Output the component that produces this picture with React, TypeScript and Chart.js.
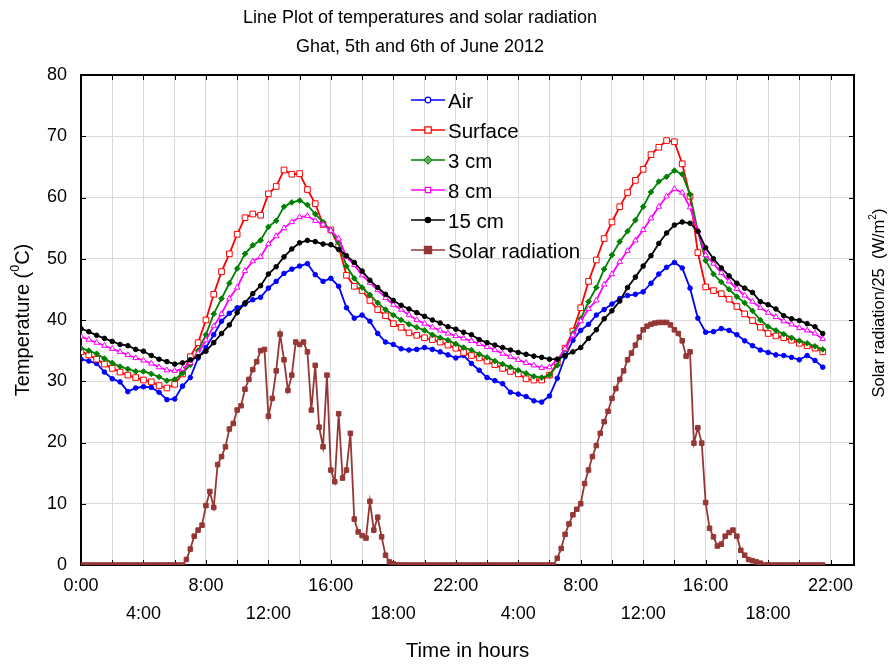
import React, { useEffect, useRef } from "react";
import { Chart, registerables } from "chart.js";

Chart.register(...registerables);

const TITLE_LINES = ["Line Plot of temperatures and solar radiation", "Ghat, 5th and 6th of June 2012"];
const X_TITLE = "Time in hours";
const Y_TITLE_PARTS = [{ t: "Temperature (" }, { t: "0", sup: true }, { t: "C)" }];
const Y2_TITLE_PARTS = [{ t: "Solar radiation/25  (W/m" }, { t: "2", sup: true }, { t: ")" }];
const X_TICK_LABELS = ["0:00", "4:00", "8:00", "12:00", "16:00", "18:00", "22:00", "4:00", "8:00", "12:00", "16:00", "18:00", "22:00"];
const X_TICK_EVERY_H = 4;
const TEMP_STEP_H = 0.5;
const SOLAR_STEP_H = 0.25;

const AIR = [
  33.6, 33.3, 32.9, 31.5, 30.4, 29.9, 28.3, 28.9, 29.1, 29.0,
  28.2, 27.0, 27.1, 29.2, 30.6, 33.8, 35.5, 37.6, 39.8, 41.1,
  42.0, 42.6, 43.3, 43.7, 45.2, 46.3, 47.6, 48.3, 48.8, 49.2,
  47.4, 46.3, 46.8, 45.5, 42.0, 40.3, 40.8, 39.8, 37.8, 36.4,
  36.0, 35.3, 35.1, 35.2, 35.5, 35.2, 34.8, 34.3, 33.8, 34.2,
  32.9, 31.8, 30.6, 30.1, 29.6, 28.2, 27.9, 27.5, 26.8, 26.6,
  27.6, 30.5, 34.0, 36.7, 38.3, 39.3, 40.8, 41.7, 42.6, 43.5,
  44.0, 44.2, 44.6, 46.0, 47.5, 48.6, 49.4, 48.5, 45.2, 40.3,
  38.0, 38.1, 38.6, 38.3, 37.6, 36.6, 35.8, 35.1, 34.7, 34.3,
  34.2, 33.9, 33.5, 34.2, 33.4, 32.3,
];

const SURFACE = [
  34.8, 34.3, 33.6, 32.8, 32.1, 31.5, 31.0, 30.6, 30.2, 29.9,
  29.3, 28.9, 29.5, 31.2, 34.0, 36.3, 40.0, 44.2, 47.9, 50.8,
  54.0, 56.7, 57.3, 57.1, 60.6, 61.8, 64.5, 63.8, 63.9, 61.3,
  59.0, 55.6, 54.7, 52.0, 47.3, 45.5, 44.8, 43.2, 41.7, 40.7,
  39.4, 38.8, 37.9, 37.5, 37.1, 36.8, 36.4, 35.9, 35.4, 34.7,
  34.2, 33.8, 33.3, 32.7, 32.1, 31.6, 31.2, 30.4, 30.2, 30.2,
  31.0, 33.0, 35.4, 38.2, 42.0, 46.3, 49.8, 53.3, 56.0, 58.5,
  60.8, 62.8, 64.6, 67.0, 68.2, 69.3, 69.1, 65.5, 60.2, 51.0,
  45.4, 44.8, 44.3, 43.4, 42.2, 41.0, 39.9, 38.8, 37.8, 37.4,
  37.1, 36.7, 36.2, 35.8, 35.4, 34.8,
];

const CM3 = [
  35.4, 35.0, 34.5, 33.7, 33.0, 32.4, 32.0, 31.6, 31.6, 31.2,
  30.7, 30.1, 30.3, 31.3, 32.7, 35.0, 37.6, 41.0, 43.5, 46.0,
  48.4, 50.8, 52.2, 53.0, 55.2, 56.2, 58.5, 59.2, 59.5, 58.8,
  57.3, 56.0, 54.6, 52.6, 48.8, 46.8, 45.3, 44.1, 42.8, 41.7,
  40.8, 40.0, 39.3, 38.8, 38.3, 37.6, 37.1, 36.7, 36.1, 35.5,
  35.1, 34.4, 33.9, 33.3, 32.8, 32.3, 31.8, 31.3, 30.8, 30.6,
  31.0, 32.6, 35.2, 37.8, 40.2, 43.0, 45.3, 48.3, 50.6, 52.8,
  54.5, 56.3, 58.5, 60.9, 62.6, 63.4, 64.4, 63.8, 60.5, 54.5,
  49.7, 47.5, 46.2, 45.0, 43.8, 42.8, 41.5, 40.0, 38.9, 38.3,
  37.7, 37.1, 36.6, 36.2, 35.7, 35.2,
];

const CM8 = [
  37.3, 36.8, 36.3, 35.8, 35.3, 34.8, 34.3, 33.8, 33.4, 32.9,
  32.3, 31.8, 31.7, 32.0, 33.0, 34.6, 36.7, 39.0, 41.0, 43.5,
  45.3, 48.0, 49.6, 50.3, 52.4, 53.7, 55.0, 56.0, 56.8, 57.0,
  56.2, 55.6, 54.6, 53.3, 50.3, 49.0, 47.3, 46.1, 44.9, 43.6,
  42.5, 41.7, 40.8, 40.0, 39.4, 38.8, 38.3, 37.8, 37.4, 37.0,
  36.6, 36.1, 35.6, 35.1, 34.5, 34.0, 33.5, 33.0, 32.6, 32.2,
  32.3, 33.5, 35.3, 37.5, 39.8, 41.8, 43.2, 45.8, 47.5, 49.5,
  51.3, 53.0, 54.7, 56.6, 58.5, 60.2, 61.4, 60.8, 58.4, 54.5,
  50.6, 49.2, 47.7, 46.3, 45.1, 44.0, 43.0, 42.0, 41.2, 40.5,
  39.8, 39.3, 38.7, 38.3, 37.8, 36.9,
];

const CM15 = [
  38.6, 38.1, 37.5, 37.0, 36.5, 36.0, 35.8, 35.2, 34.9, 34.2,
  33.6, 33.2, 32.8, 33.0, 33.5, 34.0, 34.9, 36.3, 37.8, 39.2,
  41.2, 42.8, 44.3, 45.6, 47.5, 48.7, 50.3, 51.6, 52.6, 53.0,
  52.8, 52.4, 52.3, 51.5, 50.5, 49.4, 48.0, 46.5, 45.3, 44.2,
  43.2, 42.4, 41.8, 41.2, 40.6, 40.0, 39.5, 38.9, 38.5, 38.0,
  37.6, 36.8, 36.3, 35.9, 35.5, 35.1, 34.7, 34.4, 34.1, 33.9,
  33.6, 33.6, 34.2, 34.8, 35.5, 37.0, 38.4, 40.2, 41.5, 43.1,
  45.3, 47.0, 48.8, 50.5, 52.5, 54.2, 55.5, 56.0, 55.8, 54.5,
  51.8, 50.0, 48.5, 47.2, 46.0, 45.2, 44.5, 43.0, 42.5, 41.8,
  40.7, 40.2, 39.9, 39.4, 38.9, 37.8,
];

const SOLAR = [
  0, 0, 0, 0, 0, 0, 0, 0, 0, 0,
  0, 0, 0, 0, 0, 0, 0, 0, 0, 0,
  0, 0, 0, 0, 0, 0,
  0, 0.9, 2.6, 4.7, 5.7, 6.5, 9.7, 12.0, 9.4, 16.4, 17.7, 19.3, 22.2, 23.1, 25.3, 26.0, 28.7, 30.3, 31.9, 33.2, 35.0, 35.2,
  24.3, 27.2, 31.7, 37.7, 33.5, 28.5, 31.0, 36.4, 36.0, 36.4, 34.8, 25.3, 32.6, 22.5, 19.3, 31.0, 15.5, 13.6, 24.7, 14.2,
  15.5, 21.5, 7.5, 5.4, 4.8, 4.4, 10.4, 5.7, 7.8, 4.6, 1.6, 0.5, 0.2,
  0, 0, 0, 0, 0, 0, 0, 0, 0, 0,
  0, 0, 0, 0, 0, 0, 0, 0, 0, 0,
  0, 0, 0, 0, 0, 0, 0, 0, 0, 0,
  0, 0, 0, 0, 0, 0, 0, 0, 0, 0,
  0,
  1.1, 2.7, 5.0, 6.7, 8.2, 9.1, 10.0, 13.3, 15.5, 17.7, 19.5, 21.5, 23.4, 25.1, 27.2, 28.8, 30.3, 31.7, 33.5, 34.6,
  35.9, 37.2, 38.4, 39.0, 39.3, 39.5, 39.6, 39.6, 39.6, 39.2, 38.4, 37.8, 36.6, 34.1, 34.8, 19.9, 22.4, 19.9, 10.2, 6.0,
  4.6, 3.1, 3.4, 4.7, 5.3, 5.7, 4.7, 2.4, 1.6, 0.9, 0.7, 0.5, 0.3, 0,
  0, 0, 0, 0, 0, 0, 0, 0, 0, 0,
  0, 0, 0, 0, 0,
];

const FONT = "'Liberation Sans', Arial, sans-serif";
const BROWN = "#953735";

type Part = { t: string; sup?: boolean };

function drawRich(ctx: CanvasRenderingContext2D, parts: Part[], size: number) {
  const supSize = size * 0.62;
  const widths = parts.map((p) => {
    ctx.font = `${p.sup ? supSize : size}px ${FONT}`;
    return ctx.measureText(p.t).width;
  });
  const total = widths.reduce((a, b) => a + b, 0);
  let x = -total / 2;
  ctx.textAlign = "left";
  ctx.textBaseline = "middle";
  parts.forEach((p, i) => {
    ctx.font = `${p.sup ? supSize : size}px ${FONT}`;
    ctx.fillText(p.t, x, p.sup ? -size * 0.38 : 0);
    x += widths[i];
  });
}

function drawMarker(ctx: CanvasRenderingContext2D, kind: string, x: number, y: number, r: number, stroke: string, fill: string) {
  ctx.beginPath();
  ctx.lineWidth = 1.2;
  ctx.strokeStyle = stroke;
  ctx.fillStyle = fill;
  if (kind === "circle") ctx.arc(x, y, r, 0, Math.PI * 2);
  else if (kind === "square") ctx.rect(x - r, y - r, 2 * r, 2 * r);
  else if (kind === "diamond") {
    ctx.moveTo(x, y - r);
    ctx.lineTo(x + r, y);
    ctx.lineTo(x, y + r);
    ctx.lineTo(x - r, y);
    ctx.closePath();
  }
  ctx.fill();
  ctx.stroke();
  if (kind === "diamond") {
    ctx.beginPath();
    ctx.moveTo(x - r * 0.6, y);
    ctx.lineTo(x + r * 0.6, y);
    ctx.moveTo(x, y - r * 0.6);
    ctx.lineTo(x, y + r * 0.6);
    ctx.stroke();
  }
}

const LEGEND_MARKERS = [
  { kind: "circle", r: 2.8, fill: "#ffffff" },
  { kind: "square", r: 3.2, fill: "#ffffff" },
  { kind: "diamond", r: 3.8, fill: "#ffffff" },
  { kind: "square", r: 2.6, fill: "#ffffff" },
  { kind: "circle", r: 2.6, fill: null },
  { kind: "square", r: 3.6, fill: null },
];

const decorPlugin = {
  id: "decor",
  beforeDatasetsDraw(chart: any) {
    const { ctx, chartArea: a, scales } = chart;
    const xs = scales.x;
    const ys = scales.y;
    ctx.save();
    ctx.strokeStyle = "#000";
    ctx.lineWidth = 1;
    ctx.beginPath();
    ys.ticks.forEach((t: any) => {
      const py = Math.round(ys.getPixelForValue(t.value)) + 0.5;
      ctx.moveTo(a.left, py);
      ctx.lineTo(a.left + 5, py);
      ctx.moveTo(a.right - 5, py);
      ctx.lineTo(a.right, py);
    });
    xs.ticks.forEach((t: any) => {
      const px = Math.round(xs.getPixelForValue(t.value)) + 0.5;
      ctx.moveTo(px, a.bottom);
      ctx.lineTo(px, a.bottom - 5);
      ctx.moveTo(px, a.top);
      ctx.lineTo(px, a.top + 5);
    });
    ctx.stroke();
    ctx.lineWidth = 2;
    ctx.strokeRect(a.left, a.top, a.right - a.left, a.bottom - a.top);
    ctx.restore();
  },
  afterDraw(chart: any) {
    const { ctx, chartArea: a } = chart;
    ctx.save();
    ctx.fillStyle = "#000";
    ctx.textAlign = "center";
    ctx.textBaseline = "middle";
    ctx.font = `18px ${FONT}`;
    ctx.fillText(TITLE_LINES[0], 420, 18);
    ctx.fillText(TITLE_LINES[1], 420, 47);
    ctx.font = `20.5px ${FONT}`;
    ctx.fillText(X_TITLE, (a.left + a.right) / 2, 651);
    ctx.save();
    ctx.translate(23, (a.top + a.bottom) / 2);
    ctx.rotate(-Math.PI / 2);
    drawRich(ctx, Y_TITLE_PARTS, 20);
    ctx.restore();
    ctx.save();
    ctx.translate(879, 303);
    ctx.rotate(-Math.PI / 2);
    drawRich(ctx, Y2_TITLE_PARTS, 16.5);
    ctx.restore();

    // legend
    chart.data.datasets.forEach((ds: any, i: number) => {
      const ly = 100 + 30 * i;
      ctx.beginPath();
      ctx.strokeStyle = ds.borderColor;
      ctx.lineWidth = 1.5;
      ctx.moveTo(411, ly);
      ctx.lineTo(445, ly);
      ctx.stroke();
      const m = LEGEND_MARKERS[i];
      drawMarker(ctx, m.kind, 428, ly, m.r, ds.borderColor, m.fill || ds.borderColor);
      ctx.fillStyle = "#000";
      ctx.font = `20.5px ${FONT}`;
      ctx.textAlign = "left";
      ctx.textBaseline = "middle";
      ctx.fillText(ds.label, 448, ly + 2);
    });
    ctx.restore();
  },
};

export default function App() {
  const ref = useRef<HTMLCanvasElement>(null);

  useEffect(() => {
    const temp = (arr: number[]) => arr.map((v, i) => ({ x: i * TEMP_STEP_H, y: v }));
    const solar = SOLAR.map((v, i) => ({ x: i * SOLAR_STEP_H, y: v }));

    const base = { borderWidth: 1.8, pointBorderWidth: 1, tension: 0 };
    const chart = new Chart(ref.current as HTMLCanvasElement, {
      type: "line",
      data: {
        datasets: [
          { ...base, label: "Air", data: temp(AIR), borderColor: "#0000ff", backgroundColor: "#0000ff", pointStyle: "circle", pointRadius: 2.3, pointBackgroundColor: "#0000ff", pointBorderColor: "#0000ff", order: 5 },
          { ...base, label: "Surface", data: temp(SURFACE), borderColor: "#ff0000", backgroundColor: "#ff0000", pointStyle: "rect", pointRadius: 4, pointBackgroundColor: "#ffffff", pointBorderColor: "#ff0000", order: 4 },
          { ...base, label: "3 cm", data: temp(CM3), borderColor: "#008000", backgroundColor: "#008000", pointStyle: "rectRot", pointRadius: 2.8, pointBackgroundColor: "#008000", pointBorderColor: "#008000", order: 3 },
          { ...base, label: "8 cm", data: temp(CM8), borderColor: "#ff00ff", backgroundColor: "#ff00ff", pointStyle: "triangle", pointRadius: 3.2, pointBackgroundColor: "#ffffff", pointBorderColor: "#ff00ff", order: 2 },
          { ...base, label: "15 cm", data: temp(CM15), borderColor: "#000000", backgroundColor: "#000000", pointStyle: "circle", pointRadius: 2.3, pointBackgroundColor: "#000000", pointBorderColor: "#000000", order: 1 },
          { ...base, label: "Solar radiation", data: solar, borderColor: BROWN, backgroundColor: BROWN, pointStyle: "rect", pointRadius: 3.2, pointBackgroundColor: BROWN, pointBorderColor: BROWN, order: 0 },
        ] as any,
      },
      options: {
        animation: false,
        responsive: false,
        maintainAspectRatio: false,
        devicePixelRatio: 1,
        layout: { padding: { top: 75, right: 40, left: 0, bottom: 0 } },
        plugins: { legend: { display: false }, title: { display: false }, tooltip: { enabled: false } },
        scales: {
          x: {
            type: "linear",
            min: 0,
            max: 49.5,
            afterFit: (s: any) => { s.height = 99; },
            grid: { color: "#d9d9d9", lineWidth: 1, drawTicks: false },
            border: { display: false },
            ticks: {
              stepSize: 2,
              autoSkip: false,
              maxRotation: 0,
              minRotation: 0,
              includeBounds: false,
              padding: 7,
              color: "#000",
              font: { family: FONT, size: 18, lineHeight: 1.56 },
              callback: (v: any) => {
                const n = Number(v);
                if (n % X_TICK_EVERY_H !== 0) return "";
                const i = n / X_TICK_EVERY_H;
                const lab = X_TICK_LABELS[i];
                if (lab === undefined) return "";
                return i % 2 === 0 ? [lab, ""] : ["", lab];
              },
            },
          },
          y: {
            min: 0,
            max: 80,
            afterFit: (s: any) => { s.width = 81; },
            grid: { color: "#d9d9d9", lineWidth: 1, drawTicks: false },
            border: { display: false },
            ticks: { stepSize: 10, padding: 14, color: "#000", font: { family: FONT, size: 18 } },
          },
        },
      } as any,
      plugins: [decorPlugin],
    });
    return () => chart.destroy();
  }, []);

  return (
    <div style={{ position: "fixed", left: 0, top: 0, width: 894, height: 664, background: "#ffffff" }}>
      <canvas ref={ref} width={894} height={664} style={{ display: "block" }} />
    </div>
  );
}
